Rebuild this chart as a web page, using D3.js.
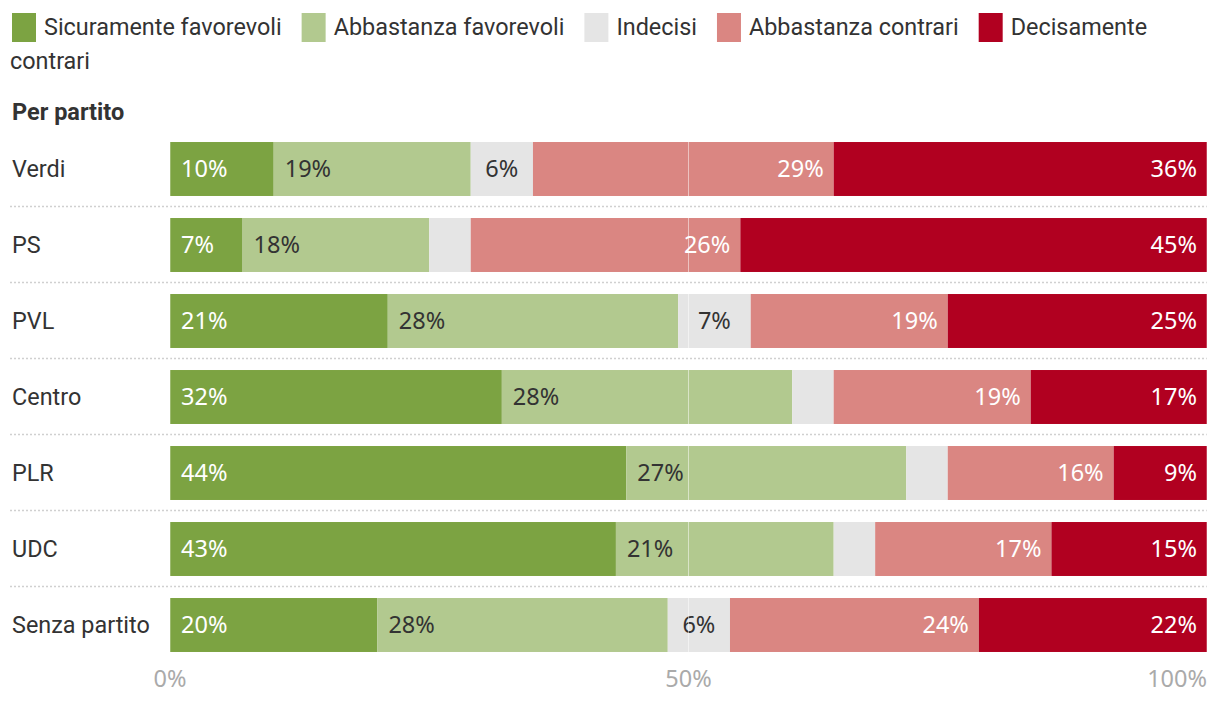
<!DOCTYPE html>
<html><head><meta charset="utf-8">
<script src="https://cdn.jsdelivr.net/npm/d3@7"></script>
<style>
body{margin:0;background:#fff;}
svg text{font-family:Roboto,"Noto Sans",sans-serif;}
svg text.num{font-family:"Noto Sans",Roboto,sans-serif;}
</style></head>
<body><svg id="c" width="1220" height="702"></svg>
<script>
const categories = ["Verdi","PS","PVL","Centro","PLR","UDC","Senza partito"];
const seriesNames = ["Sicuramente favorevoli","Abbastanza favorevoli","Indecisi","Abbastanza contrari","Decisamente contrari"];
const sicuramente = [10,7,21,32,44,43,20];
const abbastanzaFav = [19,18,28,28,27,21,28];
const indecisi = [6,4,7,4,4,4,6];
const abbastanzaContr = [29,26,19,19,16,17,24];
const decisamente = [36,45,25,17,9,15,22];
const colors = ["#7ca342","#b2c98f","#e5e5e5","#da8682","#b10020"];
const labelColors = ["#fff","#333","#333","#fff","#fff"];
const ticks = [0,50,100];
const tickLabels = ["0%","50%","100%"];
const subtitle = "Per partito";

const svg = d3.select("#c");
const series = [sicuramente, abbastanzaFav, indecisi, abbastanzaContr, decisamente];
const rows = categories.map((c,i)=>{const o={cat:c}; seriesNames.forEach((s,k)=>o[s]=series[k][i]); return o;});
const stack = d3.stack().keys(seriesNames)(rows);

const x = d3.scaleLinear().domain([0,100]).range([170,1207]);
const y = d3.scaleBand().domain(categories).range([131,663]).paddingInner(0.29).paddingOuter(0.145);

// Legend (flowing)
const leg = svg.append("g");
let cx = 12, cy = 0; const lineH = 34, maxX = 1165, fs = 23.4;
const measure = svg.append("text").style("font-size",fs+"px").attr("visibility","hidden");
function tw(s){measure.text(s); return measure.node().getComputedTextLength();}
seriesNames.forEach((s,k)=>{
  if (cx + 25 > maxX) {cx = 10; cy += lineH;}
  leg.append("rect").attr("x",cx).attr("y",13+cy).attr("width",24).attr("height",29).attr("fill",colors[k]);
  cx += 32;
  const words = s.split(" ");
  let line = "", lx = cx;
  words.forEach((w)=>{
    const cand = line ? line + " " + w : w;
    if (lx + tw(cand) > maxX && line) {
      leg.append("text").attr("x",lx).attr("y",35+cy).attr("fill","#333").style("font-size",fs+"px").text(line);
      cy += lineH; lx = 10; line = w;
    } else line = cand;
  });
  leg.append("text").attr("x",lx).attr("y",35+cy).attr("fill","#333").style("font-size",fs+"px").text(line);
  cx = lx + tw(line) + 20;
});
measure.remove();

svg.append("text").attr("x",12).attr("y",120).attr("fill","#333").style("font-size","23.5px").style("font-weight","bold").text(subtitle);

// separators
svg.append("g").selectAll("line").data(categories.slice(0,-1)).join("line")
  .attr("x1",10).attr("x2",1207)
  .attr("y1",d=>y(d)+y.bandwidth()+10.5).attr("y2",d=>y(d)+y.bandwidth()+10.5)
  .attr("stroke","#d0d0d0").attr("stroke-width",1.5).attr("stroke-dasharray","2,2");

// category labels
svg.append("g").selectAll("text").data(categories).join("text")
  .attr("x",12).attr("y",d=>y(d)+y.bandwidth()/2).attr("dy","0.35em")
  .attr("fill","#333").style("font-size","23.4px").text(d=>d);

// bars
const g = svg.append("g");
stack.forEach((s,k)=>{
  g.append("g").attr("fill",colors[k]).selectAll("rect").data(s).join("rect")
    .attr("x",d=>x(d[0])).attr("width",d=>x(d[1])-x(d[0]))
    .attr("y",d=>y(d.data.cat)).attr("height",y.bandwidth());
});

// gridlines over bars
svg.append("g").selectAll("line").data(ticks).join("line")
  .attr("x1",d=>x(d)).attr("x2",d=>x(d)).attr("y1",y(categories[0])).attr("y2",y(categories[categories.length-1])+y.bandwidth())
  .attr("stroke","#fff").attr("stroke-opacity",0.5).attr("stroke-width",1);

// value labels
stack.forEach((s,k)=>{
  g.append("g").selectAll("text").data(s.filter(d=>d[1]-d[0]>=5)).join("text")
    .attr("class","num")
    .attr("x",d=> k<2 ? x(d[0])+11 : (k===2 ? (x(d[0])+x(d[1]))/2 : x(d[1])-10))
    .attr("text-anchor", k<2 ? "start" : (k===2 ? "middle" : "end"))
    .attr("y",d=>y(d.data.cat)+y.bandwidth()/2).attr("dy","0.35em")
    .attr("fill",labelColors[k]).style("font-size","23.5px")
    .text(d=>Math.round(d[1]-d[0])+"%");
});

// axis
svg.append("g").selectAll("text").data(ticks).join("text")
  .attr("class","num")
  .attr("x",d=>x(d)).attr("y",679).attr("dy","0.35em")
  .attr("text-anchor",(d,i)=> i===ticks.length-1 ? "end" : "middle")
  .attr("fill","#aaa").style("font-size","23.5px").text((d,i)=>tickLabels[i]);
</script></body></html>
